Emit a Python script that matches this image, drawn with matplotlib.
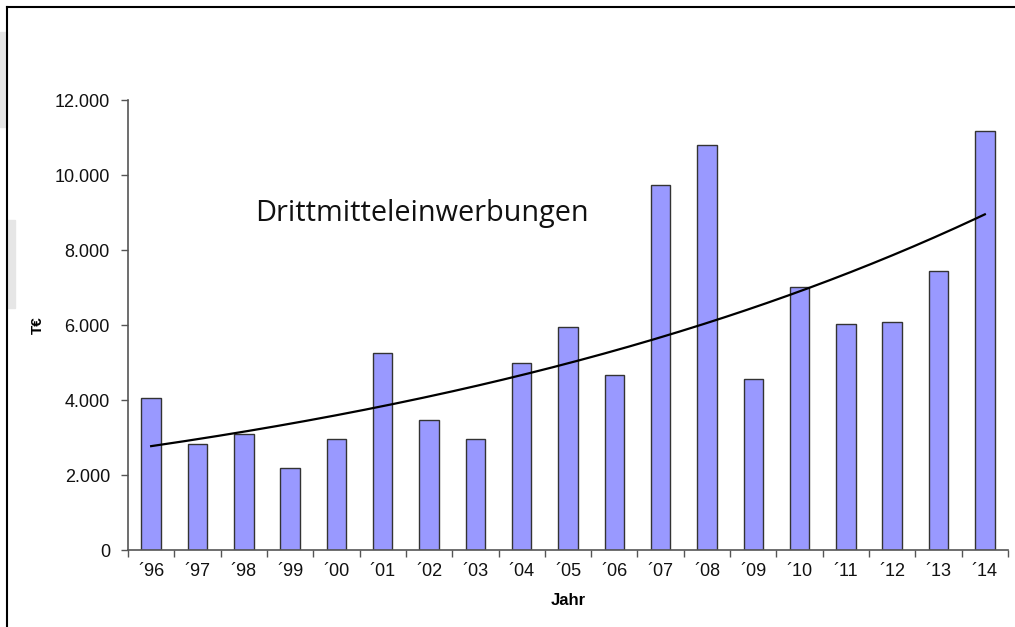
import numpy as np
import matplotlib.pyplot as plt
from matplotlib.patches import Rectangle
from matplotlib.lines import Line2D

# Drittmitteleinwerbungen in T€ pro Jahr
jahre = ["´96", "´97", "´98", "´99", "´00", "´01", "´02", "´03", "´04", "´05",
         "´06", "´07", "´08", "´09", "´10", "´11", "´12", "´13", "´14"]
werte = [4050, 2830, 3090, 2180, 2970, 5260, 3470, 2960, 4990, 5960,
         4670, 9730, 10800, 4560, 7010, 6030, 6080, 7440, 11170]
y_ticks = [0, 2000, 4000, 6000, 8000, 10000, 12000]
y_tick_labels = ["0", "2.000", "4.000", "6.000", "8.000", "10.000", "12.000"]

fig = plt.figure(figsize=(10.15, 6.27), dpi=100)
ax = fig.add_axes([0.1261, 0.1228, 0.8670, 0.7177])

x = np.arange(len(werte))
ax.bar(x, werte, width=0.42, color="#9999ff", edgecolor="#333333", linewidth=1.0, zorder=2)

# exponentielle Trendlinie (wie in Excel: lineare Regression auf ln(y))
b, a = np.polyfit(x, np.log(werte), 1)
xt = np.linspace(x[0], x[-1], 200)
ax.plot(xt, np.exp(a + b * xt), color="black", linewidth=1.6, zorder=3)

ax.set_xlim(-0.5, len(werte) - 0.5)
ax.set_ylim(0, 12000)

ax.set_yticks(y_ticks)
ax.set_yticklabels(y_tick_labels, fontsize=13, family="Liberation Sans", color="#111111")
ax.tick_params(axis="y", direction="out", length=5, width=1, color="#555555", pad=8)

# Striche zwischen den Balken, Beschriftung in der Mitte
ax.set_xticks(np.arange(len(werte) + 1) - 0.5)
ax.set_xticklabels([])
ax.tick_params(axis="x", which="major", direction="out", length=5, width=1, color="#555555")
ax.set_xticks(x, minor=True)
ax.set_xticklabels(jahre, minor=True, fontsize=13, family="Liberation Sans", color="#111111")
ax.tick_params(axis="x", which="minor", length=0, pad=9)

for s in ["top", "right"]:
    ax.spines[s].set_visible(False)
for s in ["left", "bottom"]:
    ax.spines[s].set_color("#555555")
    ax.spines[s].set_linewidth(1.2)

ax.set_ylabel("T€", fontsize=11, fontweight="bold", family="Liberation Sans", labelpad=0)
ax.yaxis.set_label_coords(-0.095, 0.5)
ax.set_xlabel("Jahr", fontsize=12, fontweight="bold", family="Liberation Sans")
ax.xaxis.set_label_coords(0.5, -0.096)

ax.text(0.145, 0.747, "Drittmitteleinwerbungen", transform=ax.transAxes,
        fontsize=20.8, family="Open Sans", color="#111111", va="center", ha="left")

# Rahmen und graue Flächen am Rand
fig.patches.append(Rectangle((0, 1 - 127 / 627), 7 / 1015, 95 / 627,
                             transform=fig.transFigure, color="#e6e6e6", zorder=0))
fig.patches.append(Rectangle((7 / 1015, 1 - 308 / 627), 8 / 1015, 88 / 627,
                             transform=fig.transFigure, color="#e6e6e6", zorder=0))
fig.lines.append(Line2D([7 / 1015, 1], [1 - 7 / 627, 1 - 7 / 627],
                        transform=fig.transFigure, color="black", linewidth=1.5))
fig.lines.append(Line2D([7 / 1015, 7 / 1015], [0, 1 - 7 / 627],
                        transform=fig.transFigure, color="black", linewidth=1.5))

fig.savefig("out.png", dpi=100)
